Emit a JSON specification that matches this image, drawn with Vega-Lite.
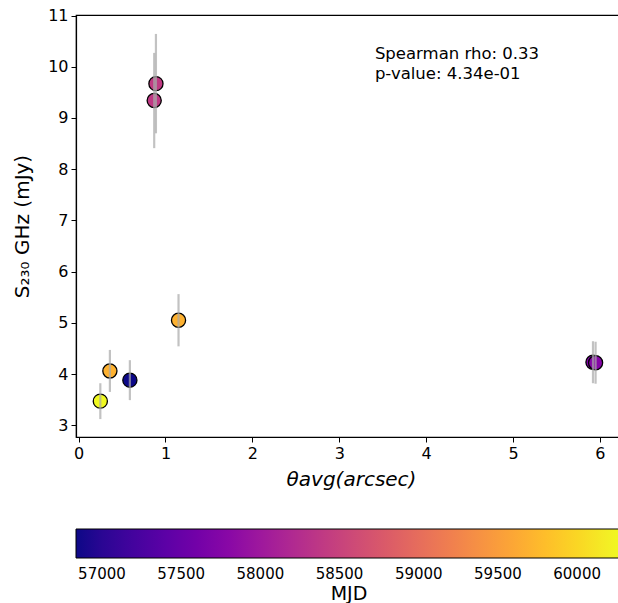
{
  "$schema": "https://vega.github.io/schema/vega-lite/v6.json",
  "autosize": {"type": "none"},
  "padding": {"left": 76, "top": 15, "right": 0, "bottom": 166},
  "width": 550,
  "height": 422,
  "background": "white",
  "config": {
    "font": "DejaVu Sans",
    "view": {"stroke": "black", "strokeWidth": 1.2},
    "axis": {
      "grid": false,
      "domainColor": "black",
      "domainWidth": 1.2,
      "tickColor": "black",
      "tickSize": 5,
      "tickWidth": 1,
      "labelColor": "black",
      "labelFont": "DejaVu Sans",
      "labelFontSize": 16,
      "titleFont": "DejaVu Sans",
      "titleFontWeight": "normal",
      "titleColor": "black",
      "titleFontSize": 20
    },
    "legend": {
      "labelFontSize": 15,
      "titleFontSize": 19
    }
  },
  "layer": [
    {
      "data": {
        "values": [
          {"theta": 0.59, "flux": 3.88, "err": 0.39, "MJD": 56836},
          {"theta": 0.25, "flux": 3.47, "err": 0.35, "MJD": 60277},
          {"theta": 0.36, "flux": 4.06, "err": 0.41, "MJD": 59690},
          {"theta": 1.15, "flux": 5.05, "err": 0.51, "MJD": 59690},
          {"theta": 0.87, "flux": 9.34, "err": 0.93, "MJD": 58385},
          {"theta": 0.89, "flux": 9.67, "err": 0.97, "MJD": 58400},
          {"theta": 5.92, "flux": 4.23, "err": 0.41, "MJD": 57730},
          {"theta": 5.95, "flux": 4.22, "err": 0.41, "MJD": 57760}
        ]
      },
      "layer": [
        {
          "mark": {"type": "circle", "size": 200, "opacity": 1, "stroke": "black", "strokeWidth": 1.3},
          "encoding": {
            "x": {
              "field": "theta", "type": "quantitative",
              "scale": {"domain": [-0.03, 6.3], "nice": false, "zero": false},
              "axis": {"values": [0, 1, 2, 3, 4, 5, 6], "format": "d", "title": "θavg(arcsec)", "titlePadding": 8, "labelPadding": 3, "titleFontStyle": "italic"}
            },
            "y": {
              "field": "flux", "type": "quantitative",
              "scale": {"domain": [2.77, 11.01], "nice": false, "zero": false},
              "axis": {"values": [3, 4, 5, 6, 7, 8, 9, 10, 11], "format": "d", "title": "S₂₃₀ GHz (mJy)", "titlePadding": 15, "labelPadding": 3}
            },
            "color": {
              "field": "MJD", "type": "quantitative",
              "scale": {"scheme": "plasma", "domain": [56836, 60277]},
              "legend": {
                "orient": "none",
                "legendX": 0,
                "legendY": 514,
                "direction": "horizontal",
                "gradientLength": 545,
                "gradientThickness": 29,
                "gradientStrokeColor": "black",
                "gradientStrokeWidth": 1,
                "values": [57000, 57500, 58000, 58500, 59000, 59500, 60000],
                "format": "d",
                "labelFontSize": 15,
                "labelColor": "black",
                "labelFont": "DejaVu Sans",
                "labelOffset": 9,
                "labelOverlap": false,
                "title": "MJD",
                "titleOrient": "bottom",
                "titleAnchor": "middle",
                "titleFontSize": 19,
                "titleFontWeight": "normal",
                "titleColor": "black",
                "titleFont": "DejaVu Sans",
                "titlePadding": 3
              }
            }
          }
        },
        {
          "mark": {"type": "errorbar", "color": "#a8a8a8", "opacity": 0.7, "thickness": 2.2},
          "encoding": {
            "x": {"field": "theta", "type": "quantitative", "title": "θavg(arcsec)"},
            "y": {"field": "flux", "type": "quantitative", "title": "S₂₃₀ GHz (mJy)"},
            "yError": {"field": "err"}
          }
        }
      ]
    },
    {
      "data": {"values": [{"label": "Spearman rho: 0.33\np-value: 4.34e-01", "tx": 3.41, "ty": 10.4}]},
      "mark": {"type": "text", "align": "left", "baseline": "top", "fontSize": 16.5, "font": "DejaVu Sans", "color": "black", "lineHeight": 20, "lineBreak": "\n"},
      "encoding": {
        "x": {"field": "tx", "type": "quantitative", "title": "θavg(arcsec)"},
        "y": {"field": "ty", "type": "quantitative", "title": "S₂₃₀ GHz (mJy)"},
        "text": {"field": "label"}
      }
    }
  ]
}
